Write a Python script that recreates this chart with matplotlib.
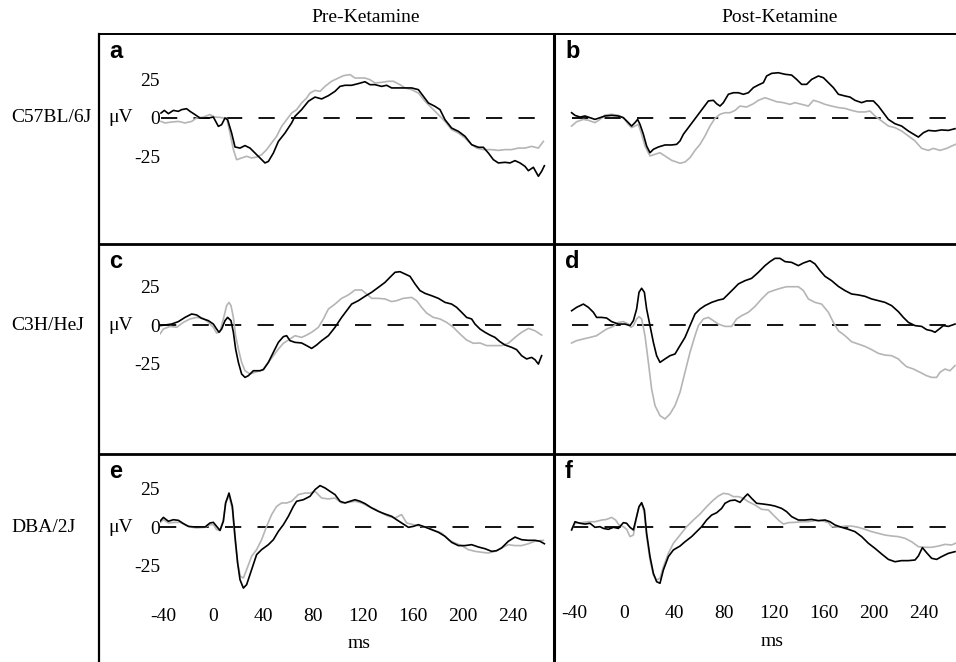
import matplotlib
matplotlib.use("Agg")
import matplotlib.pyplot as plt
from matplotlib.lines import Line2D

# ---- data: evoked potentials (ms, uV), black = trace 1, gray = trace 2 ----
# a: C57BL/6J pre-ketamine
a_black_t = [-41.6, -38.9, -35.7, -31.7, -27.7, -25.1, -21.1, -18.4, -14.4, -10.4, -3.7, 0.3, 4.3, 6.9, 9.6,
             11.7, 14.9, 17.6, 21.6, 25.6, 29.6, 33.6, 37.6, 41.6, 44.3, 48.3, 52.3, 57.6, 62.9, 65.6, 70.9,
             76.3, 81.6, 86.9, 92.3, 97.6, 101.6, 105.6, 110.9, 116.3, 121.6, 125.6, 129.6, 134.9, 138.9,
             142.9, 148.3, 153.6, 158.9, 164.3, 168.3, 172.3, 177.6, 181.6, 185.6, 190.9, 196.3, 201.6,
             206.9, 212.3, 216.3, 220.3, 224.3, 228.3, 233.6, 237.6, 241.6, 245.6, 249.6, 252.3, 256.3,
             260.3, 262.9, 265.1]
a_black_v = [3.2, 4.9, 2.8, 4.9, 4.3, 5.4, 6.0, 4.3, 2.2, 0, 0, 0.6, -5.4, -4.3, 0,
             -1.1, -9.7, -18.7, -19.4, -17.8, -19.4, -22.6, -25.8, -29.0, -28.0, -22.6, -15.1, -9.7, -3.2, 1.1, 5.4,
             10.8, 13.5, 12.3, 14.4, 17.2, 20.4, 21.1, 21.1, 22.2, 23.4, 21.5, 21.5, 20.4, 21.1,
             19.4, 19.4, 19.4, 19.4, 18.3, 14.0, 9.7, 7.5, 5.4, -1.1, -6.5, -8.6, -11.8,
             -17.2, -18.9, -18.9, -22.6, -26.9, -29.0, -28.6, -29.0, -27.5, -29.0, -31.2, -34.0, -31.8,
             -37.6, -34.4, -30.8]
a_gray_t = [-41.6, -38.4, -33.1, -27.7, -22.4, -17.1, -13.1, -7.7, -2.4, 1.6, 5.6, 8.3, 10.9, 13.6, 16.3,
            18.9, 22.9, 26.9, 30.9, 34.9, 38.9, 42.9, 46.9, 50.9, 54.9, 58.9, 62.9, 66.9, 70.9, 74.9, 77.6,
            81.6, 85.6, 89.6, 94.9, 100.3, 104.3, 109.6, 113.6, 117.6, 121.6, 125.6, 129.6, 134.9, 140.3,
            144.3, 149.6, 153.6, 158.9, 164.3, 169.6, 174.9, 180.3, 185.6, 190.9, 196.3, 201.6, 206.9,
            210.9, 216.3, 222.9, 228.3, 233.6, 238.9, 244.3, 249.6, 254.9, 260.3, 264.3]
a_gray_v = [-2.2, -3.2, -2.6, -2.2, -3.2, -2.2, 0, 0.6, 2.2, 0.6, 0.4, 0, 0, -9.7, -20.4,
            -26.9, -25.8, -24.7, -25.8, -25.2, -23.7, -20.4, -16.1, -11.8, -5.4, -1.1, 3.2, 5.4, 9.7, 12.9, 16.1,
            17.8, 17.2, 20.4, 23.7, 25.8, 27.3, 28.0, 25.8, 25.8, 25.8, 24.7, 22.6, 23.0, 23.7,
            23.7, 21.5, 19.4, 18.3, 16.1, 10.8, 6.5, 2.2, -2.2, -7.5, -9.7, -12.9, -17.2,
            -19.4, -20.4, -20.4, -20.9, -20.4, -20.4, -19.4, -19.4, -18.3, -19.4, -15.1]

# b: C57BL/6J post-ketamine
b_black_t = [-41.9, -39.2, -35.2, -31.2, -27.2, -23.2, -19.2, -15.2, -9.9, -4.5, -0.5, 3.5, 6.1, 8.8, 10.9,
             12.8, 15.5, 18.1, 20.8, 23.5, 27.5, 32.8, 38.1, 42.1, 44.8, 47.5, 51.5, 55.5, 59.5, 63.5, 67.5,
             71.5, 74.1, 76.8, 79.5, 83.5, 87.5, 91.5, 95.5, 99.5, 103.5, 107.5, 111.5, 114.1, 118.1, 123.5,
             128.8, 134.1, 138.1, 142.1, 146.1, 150.1, 155.5, 159.5, 163.5, 167.5, 171.5, 176.8, 180.8,
             184.8, 190.1, 194.1, 199.5, 203.5, 207.5, 211.5, 216.8, 222.1, 227.5, 232.8, 235.5, 239.5,
             243.5, 248.8, 254.1, 259.5, 264.8]
b_black_v = [3.4, 1.7, 0.6, 1.3, 0.2, -0.9, 0.2, 1.3, 1.7, 1.3, 0.2, -3.0, -5.2, -3.0, -0.9,
             -4.1, -10.5, -18.1, -22.4, -20.2, -18.7, -17.4, -17.4, -17.0, -14.8, -10.5, -6.2, -1.9, 2.4, 6.7, 11.0,
             11.4, 9.2, 7.7, 9.9, 15.3, 16.3, 16.3, 15.3, 16.3, 19.6, 21.3, 22.8, 27.1, 28.8, 29.2,
             28.2, 27.7, 24.9, 21.7, 21.7, 24.9, 27.1, 26.0, 22.8, 19.6, 15.3, 14.2, 13.5,
             11.4, 9.9, 11.0, 11.0, 7.7, 3.4, -0.9, -3.7, -5.2, -8.4, -11.0, -12.3, -9.5,
             -8.0, -8.4, -7.7, -8.0, -6.9]
b_gray_t = [-41.9, -37.9, -32.5, -28.5, -23.2, -19.2, -15.2, -9.9, -4.5, -0.5, 3.5, 6.1, 8.8, 11.5, 14.1,
            16.8, 20.8, 24.8, 28.8, 32.8, 38.1, 44.8, 48.8, 52.8, 56.8, 60.8, 64.8, 68.8, 72.8, 76.8, 80.8,
            84.8, 88.8, 92.8, 98.1, 103.5, 107.5, 112.8, 116.8, 122.1, 127.5, 132.8, 136.8, 142.1, 147.5,
            151.5, 155.5, 160.8, 166.1, 171.5, 176.8, 182.1, 187.5, 192.8, 196.8, 200.8, 206.1, 211.5,
            216.8, 222.1, 227.5, 232.8, 238.1, 243.5, 247.5, 252.8, 258.1, 262.1, 265.3]
b_gray_v = [-5.2, -2.4, -0.9, -1.5, -3.0, -0.9, 1.9, 2.4, 1.7, 0.2, -4.1, -6.2, -5.2, -4.1, -10.5,
            -18.1, -24.5, -23.4, -22.4, -24.5, -27.3, -29.2, -28.4, -25.6, -20.9, -17.0, -11.6, -5.2, -0.2, 2.4, 3.4,
            3.4, 4.9, 7.7, 7.1, 9.2, 11.4, 13.1, 12.0, 10.5, 9.9, 8.8, 9.9, 8.8, 7.7,
            11.4, 10.5, 8.8, 7.7, 6.7, 6.2, 4.9, 3.9, 3.9, 4.5, 1.3, -1.9, -5.2,
            -6.2, -8.4, -11.6, -14.8, -19.6, -20.9, -19.6, -20.9, -19.6, -18.1, -17.0]

# c: C3H/HeJ pre-ketamine
c_black_t = [-42.4, -38.4, -33.1, -27.7, -22.4, -17.1, -13.1, -9.1, -3.7, 0.3, 2.9, 4.8, 6.9, 9.6, 11.7,
             14.4, 16.3, 18.1, 20.3, 22.9, 25.6, 28.3, 32.3, 37.6, 40.3, 44.3, 48.3, 52.3, 56.3, 58.9, 61.6,
             65.6, 70.9, 74.9, 78.9, 82.9, 86.9, 92.3, 97.6, 102.9, 106.9, 110.9, 116.3, 121.6, 126.9, 132.3,
             137.6, 141.6, 145.6, 149.6, 153.6, 157.6, 161.6, 165.6, 169.6, 174.9, 180.3, 185.6, 190.9,
             194.9, 198.9, 202.9, 206.9, 209.6, 213.6, 217.6, 221.6, 225.6, 229.6, 233.6, 238.9, 242.9,
             246.9, 250.9, 254.9, 257.6, 260.3, 262.9]
c_black_v = [-0.4, 0, 0.6, 2.2, 4.9, 7.1, 6.5, 4.3, 2.8, 0.6, -2.6, -4.7, -2.6, 2.8, 4.9,
             2.8, -4.7, -15.5, -24.1, -31.6, -33.8, -32.7, -29.5, -29.5, -28.8, -24.1, -17.6, -11.2, -7.5, -6.9, -10.1,
             -11.2, -11.6, -13.3, -15.1, -12.9, -10.1, -6.9, -1.5, 4.9, 9.2, 13.5, 15.7, 18.5, 21.1, 24.3,
             27.5, 30.8, 34.0, 34.4, 32.9, 31.4, 26.5, 22.2, 20.4, 18.9, 17.2, 14.6, 13.5,
             11.4, 8.2, 4.9, 3.9, 0.6, -2.6, -4.7, -6.5, -8.0, -10.8, -12.9, -14.4, -15.9,
             -19.8, -21.9, -20.9, -22.4, -25.2, -19.8]
c_gray_t = [-42.4, -39.7, -34.4, -29.1, -23.7, -18.4, -13.1, -7.7, -3.7, 0.3, 2.9, 5.6, 8.3, 10.9, 12.8,
            14.4, 16.3, 18.1, 20.3, 22.9, 25.6, 29.6, 33.6, 37.6, 40.3, 44.3, 48.3, 52.3, 56.3, 61.6, 65.6,
            70.9, 74.9, 78.9, 84.3, 88.3, 92.3, 97.6, 102.9, 108.3, 113.6, 118.9, 122.9, 126.9, 132.3,
            137.6, 142.9, 146.9, 152.3, 158.9, 162.9, 166.9, 170.9, 176.3, 181.6, 186.9, 192.3, 197.6,
            202.9, 208.3, 213.6, 218.9, 224.3, 230.9, 236.3, 241.6, 246.9, 252.3, 257.6, 262.9]
c_gray_v = [-5.8, -2.6, -0.9, -1.5, 1.7, 3.9, 4.9, 4.3, 1.7, -1.5, -5.2, -4.3, 3.9, 12.5, 14.6,
            12.5, 4.9, -6.9, -15.5, -24.1, -29.5, -31.6, -30.5, -29.5, -28.4, -24.1, -19.8, -15.5, -11.8, -9.0, -6.9,
            -8.0, -6.5, -4.7, -1.5, 3.9, 10.3, 13.5, 17.2, 19.4, 22.6, 22.6, 20.0, 17.2, 17.2,
            16.8, 15.1, 15.7, 17.2, 17.8, 15.7, 11.4, 7.7, 4.9, 3.9, 1.7, -1.5, -5.8,
            -9.7, -11.8, -11.6, -13.3, -13.3, -13.3, -11.8, -8.0, -4.7, -2.2, -3.7, -6.5]

# d: C3H/HeJ post-ketamine
d_black_t = [-41.9, -37.9, -32.5, -28.5, -24.5, -21.9, -17.9, -13.9, -9.9, -4.5, 0.8, 4.8, 7.5, 10.1, 12.0,
             14.1, 16.3, 18.1, 20.8, 23.5, 26.1, 28.8, 32.8, 36.8, 40.8, 44.8, 48.8, 52.8, 56.8, 60.8, 64.8,
             70.1, 75.5, 79.5, 83.5, 87.5, 91.5, 96.8, 102.1, 107.5, 112.8, 116.8, 120.8, 124.8, 128.8,
             134.1, 139.5, 143.5, 148.8, 152.8, 156.8, 160.8, 166.1, 171.5, 176.8, 182.1, 187.5, 192.8,
             198.1, 203.5, 208.8, 214.1, 219.5, 223.5, 227.5, 232.8, 238.1, 242.1, 246.1, 248.8, 252.8,
             255.5, 259.5, 264.8]
d_black_v = [9.2, 11.4, 13.5, 11.4, 8.2, 4.9, 4.9, 4.5, 2.2, 0.6, 0.6, -0.4, 2.8, 10.3, 21.1,
             23.7, 21.1, 10.3, -0.4, -11.2, -19.8, -24.1, -21.9, -19.8, -18.7, -13.3, -8.0, -0.4, 7.1, 10.3, 12.5,
             14.6, 16.1, 16.8, 20.0, 23.2, 26.5, 28.6, 30.1, 34.0, 38.3, 40.9, 43.0, 43.0, 40.9,
             40.4, 38.3, 40.0, 41.5, 39.4, 35.1, 31.4, 28.6, 24.9, 22.2, 20.0, 19.4, 18.5,
             16.8, 15.7, 14.6, 12.5, 8.6, 4.9, 1.7, -0.4, -0.9, -3.0, -3.7, -4.7, -2.2,
             -0.4, -0.9, 0.6]
d_gray_t = [-41.9, -37.9, -32.5, -27.2, -21.9, -17.9, -13.9, -8.5, -4.5, -0.5, 3.5, 5.6, 7.5, 10.1, 12.0,
            14.1, 16.8, 19.5, 22.1, 24.8, 28.8, 32.8, 36.8, 40.8, 44.8, 48.8, 52.8, 56.8, 59.5, 63.5, 67.5,
            71.5, 75.5, 80.8, 86.1, 90.1, 94.1, 99.5, 104.8, 110.1, 115.5, 120.8, 126.1, 130.1, 134.1,
            139.5, 143.5, 147.5, 152.8, 158.1, 163.5, 167.5, 171.5, 176.8, 182.1, 187.5, 192.8, 198.1,
            203.5, 208.8, 214.1, 219.5, 222.1, 226.1, 231.5, 236.8, 242.1, 246.1, 250.1, 252.8, 256.8,
            260.8, 264.8]
d_gray_v = [-11.6, -10.1, -9.0, -8.0, -6.9, -4.7, -2.6, -0.9, 1.7, 2.2, 0.6, -1.5, -0.4, 3.9, 5.4,
            3.9, -6.9, -24.1, -41.3, -52.0, -58.5, -60.6, -57.4, -52.0, -43.4, -30.5, -17.6, -6.9, -0.4, 3.9, 4.9,
            2.8, 0.6, -0.9, -0.9, 3.9, 6.0, 8.2, 12.0, 16.8, 21.1, 22.6, 23.9, 24.7, 24.7,
            24.7, 22.2, 16.8, 14.6, 13.5, 8.2, 1.7, -3.7, -6.9, -10.8, -12.3, -13.8, -15.9,
            -18.3, -19.4, -19.8, -21.9, -24.1, -26.9, -28.4, -30.5, -32.7, -33.8, -33.8, -30.5, -28.4,
            -29.5, -26.2]

# e: DBA/2J pre-ketamine
e_black_t = [-42.4, -39.7, -35.7, -31.7, -27.7, -23.7, -19.7, -14.4, -6.4, -2.4, 0.3, 2.9, 5.6, 8.3, 10.1,
             12.8, 15.5, 17.6, 19.7, 21.6, 24.3, 26.9, 30.9, 34.9, 38.9, 44.3, 48.3, 52.3, 56.3, 60.3, 64.3,
             66.9, 72.3, 77.6, 81.6, 85.6, 89.6, 93.6, 97.6, 101.6, 105.6, 109.6, 113.6, 117.6, 121.6,
             126.9, 132.3, 137.6, 142.9, 146.9, 150.9, 156.3, 160.3, 164.3, 169.6, 174.9, 180.3, 185.6,
             190.9, 196.3, 201.6, 206.9, 212.3, 217.6, 222.9, 226.9, 230.9, 236.3, 241.6, 246.9, 252.3,
             257.6, 261.6, 265.1]
e_black_v = [3.7, 6.2, 3.7, 4.7, 4.3, 2.2, 0.4, 0, 0, 2.6, 3.0, 0.4, -2.2, 3.7, 15.5,
             21.9, 13.3, -6.0, -23.2, -34.0, -39.4, -37.2, -27.5, -17.8, -14.6, -11.4, -8.2, -2.8, 1.5, 6.9, 13.3,
             16.6, 17.6, 19.8, 24.1, 26.7, 25.2, 23.0, 20.9, 16.6, 15.5, 16.6, 17.6, 16.6, 15.1,
             12.3, 10.1, 8.4, 6.9, 4.7, 2.6, -0.2, 0.4, 1.5, 0, -1.7, -3.4, -6.0,
             -9.9, -12.0, -12.0, -11.4, -12.9, -14.0, -15.7, -15.3, -13.5, -9.2, -6.5, -8.2, -8.6,
             -8.6, -9.2, -10.8]
e_gray_t = [-42.4, -39.7, -35.7, -30.4, -26.4, -22.4, -18.4, -13.1, -6.4, -2.4, 0.3, 2.9, 5.6, 8.3, 10.1,
            12.8, 15.5, 17.6, 19.7, 21.9, 24.3, 26.9, 30.9, 34.9, 38.9, 42.9, 46.9, 50.9, 54.9, 58.9, 62.9,
            68.3, 73.6, 77.6, 81.6, 86.9, 92.3, 97.6, 102.9, 108.3, 113.6, 118.9, 124.3, 129.6, 134.9,
            140.3, 145.6, 150.9, 154.9, 160.3, 166.9, 172.3, 177.6, 182.9, 188.3, 193.6, 198.9, 204.3,
            209.6, 214.9, 220.3, 225.6, 230.9, 236.3, 241.6, 246.9, 252.3, 257.6, 264.3]
e_gray_v = [3.0, 4.7, 2.6, 3.0, 3.0, 1.5, 0, -0.6, -0.2, 1.5, 1.5, -1.7, -2.2, 4.7, 15.5,
            20.2, 11.2, -8.2, -23.2, -31.8, -32.9, -27.5, -18.9, -14.6, -8.2, 0.4, 8.0, 13.3, 15.5, 15.5, 16.6,
            20.9, 21.9, 21.9, 23.0, 18.7, 18.1, 18.7, 15.5, 15.9, 16.6, 15.5, 13.3, 11.6, 9.0,
            6.9, 5.8, 8.0, 2.6, 1.5, 0.4, -0.6, -2.4, -3.9, -8.2, -10.3, -12.0, -14.6,
            -15.7, -16.3, -16.8, -15.7, -13.5, -11.4, -12.0, -12.0, -10.8, -9.2, -8.6]

# f: DBA/2J post-ketamine
f_black_t = [-41.9, -39.2, -35.2, -31.2, -27.2, -23.2, -19.2, -16.5, -12.5, -8.5, -4.5, -0.5, 2.1, 4.8, 7.5,
             10.1, 12.0, 14.1, 16.3, 18.1, 20.8, 23.5, 26.1, 28.8, 31.5, 35.5, 39.5, 44.8, 48.8, 54.1, 58.1,
             62.1, 66.1, 70.1, 74.1, 78.1, 80.8, 84.8, 88.8, 92.8, 96.8, 98.9, 102.1, 106.1, 111.5, 116.8,
             120.8, 126.1, 130.1, 134.1, 139.5, 144.8, 150.1, 155.5, 160.8, 164.8, 168.8, 174.1, 179.5,
             184.8, 190.1, 195.5, 200.8, 206.1, 211.5, 216.8, 222.1, 227.5, 232.8, 235.5, 238.7, 242.1,
             246.1, 250.1, 254.1, 259.5, 264.8]
f_black_v = [-1.9, 3.4, 2.4, 1.9, 2.4, -0.2, 0.2, -0.9, -1.5, -0.2, -0.9, 2.8, 2.4, -0.2, -1.9,
             6.7, 13.1, 15.7, 11.0, -4.1, -19.1, -29.9, -35.3, -36.3, -27.7, -19.1, -14.8, -12.3, -9.5, -6.2, -3.0,
             0.2, 4.5, 7.7, 9.2, 12.0, 15.3, 17.0, 17.4, 15.9, 19.6, 21.3, 18.5, 15.3, 14.8, 14.2,
             13.5, 12.0, 9.9, 6.7, 4.5, 4.5, 4.9, 4.1, 4.5, 3.4, 1.3, -0.2, -1.5,
             -3.0, -6.2, -10.5, -13.8, -17.4, -20.9, -22.4, -21.7, -21.7, -21.3, -18.7, -13.3, -16.6,
             -20.2, -20.9, -19.1, -17.0, -15.9]
f_gray_t = [-41.9, -39.2, -33.9, -28.5, -23.2, -17.9, -13.9, -9.9, -6.7, -4.0, -0.5, 2.1, 4.8, 7.5, 10.1,
            12.0, 14.1, 16.3, 18.1, 20.8, 23.5, 26.1, 28.8, 31.5, 35.5, 39.5, 44.8, 50.1, 55.5, 60.8, 66.1,
            71.5, 75.5, 79.5, 83.5, 87.5, 91.5, 95.5, 99.5, 104.8, 110.1, 115.5, 119.5, 123.5, 127.5,
            131.5, 136.8, 142.1, 147.5, 152.8, 158.1, 163.5, 166.1, 171.5, 176.8, 182.1, 187.5, 192.8,
            198.1, 203.5, 208.8, 214.1, 219.5, 224.8, 230.1, 235.5, 240.8, 246.1, 251.5, 256.8, 262.1, 265.3]
f_gray_v = [-1.5, 2.4, 2.8, 3.4, 3.4, 4.5, 4.9, 6.2, 4.5, 1.3, 0.2, -1.5, -6.2, -5.2, 6.7,
            13.1, 15.3, 8.8, -6.2, -21.3, -31.0, -34.2, -33.1, -25.6, -17.0, -10.5, -5.2, 0.2, 4.5, 8.4, 13.1,
            17.4, 20.0, 21.7, 21.3, 19.6, 19.6, 18.5, 16.3, 14.2, 11.4, 11.0, 7.7, 4.5, 1.9,
            2.8, 3.0, 3.4, 3.4, 4.1, 4.1, 2.8, 0.2, -0.2, 0.6, 0.6, -0.2, -1.5,
            -3.0, -4.1, -5.2, -5.8, -6.2, -7.3, -9.5, -12.7, -13.1, -13.1, -12.3, -11.2, -11.6, -10.5]

strains = ["C57BL/6J", "C3H/HeJ", "DBA/2J"]
conditions = ["Pre-Ketamine", "Post-Ketamine"]
letters = ["a", "b", "c", "d", "e", "f"]
y_ticks = [-25, 0, 25]
y_tick_labels = ["-25", "0", "25"]
x_ticks = [-40, 0, 40, 80, 120, 160, 200, 240]
x_tick_labels = ["-40", "0", "40", "80", "120", "160", "200", "240"]

panels = [
    (a_black_t, a_black_v, a_gray_t, a_gray_v),
    (b_black_t, b_black_v, b_gray_t, b_gray_v),
    (c_black_t, c_black_v, c_gray_t, c_gray_v),
    (d_black_t, d_black_v, d_gray_t, d_gray_v),
    (e_black_t, e_black_v, e_gray_t, e_gray_v),
    (f_black_t, f_black_v, f_gray_t, f_gray_v),
]

# ---- layout (pixels of the 956x662 canvas) ----
W, H = 956, 662
LEFT, MID, RIGHT = 99, 554, 956
TOP = 34
row_top = [34, 244, 454]
row_bot = [244, 454, 662]
row_zero = [118, 325, 527]
col_x0 = [160, 554]
col_x1 = [554, 956]
col_t0 = [213, 624]      # pixel of t = 0 ms
PX_MS = 1.25
PX_UV = 1.55
GRAY = "#b5b5b5"

plt.rcParams["font.family"] = ["Liberation Serif", "DejaVu Serif"]
plt.rcParams["axes.unicode_minus"] = False


def fx(x):
    return x / W


def fy(y):
    return 1 - y / H


fig = plt.figure(figsize=(W / 100, H / 100), dpi=100)

for r in range(3):
    for c in range(2):
        bt, bv, gt, gv = panels[r * 2 + c]
        x0, x1 = col_x0[c], col_x1[c]
        y0, y1 = row_top[r], row_bot[r]
        ax = fig.add_axes([fx(x0), fy(y1), (x1 - x0) / W, (y1 - y0) / H])
        ax.patch.set_visible(False)
        for s in ax.spines.values():
            s.set_visible(False)
        ax.set_xlim((x0 - col_t0[c]) / PX_MS, (x1 - col_t0[c]) / PX_MS)
        ax.set_ylim(-(y1 - row_zero[r]) / PX_UV, (row_zero[r] - y0) / PX_UV)

        t_lo = min(bt[0], gt[0])
        t_hi = max(bt[-1], gt[-1])
        ax.plot([t_lo, t_hi], [0, 0], color="black", lw=1.3, dashes=(9, 9))
        ax.plot(gt, gv, color=GRAY, lw=1.2)
        ax.plot(bt, bv, color="black", lw=1.2)

        if c == 0:
            ax.set_yticks(y_ticks)
            ax.set_yticklabels(y_tick_labels)
            ax.tick_params(axis="y", length=0, pad=0, labelsize=14)
        else:
            ax.set_yticks([])
        if r == 2:
            ax.set_xticks(x_ticks)
            ax.set_xticklabels(x_tick_labels)
            ax.tick_params(axis="x", length=0, pad=-39 if c == 0 else -41, labelsize=14)
        else:
            ax.set_xticks([])

        # panel letter
        fig.text(fx(x0 - 52 + 1 if c == 0 else x0 + 11), fy(y0 + 24), letters[r * 2 + c],
                 family="Liberation Sans", weight="bold", fontsize=17, va="baseline")

# row labels and unit labels
for r, name in enumerate(strains):
    fig.text(fx(11), fy(row_zero[r]), name, fontsize=14, va="center", ha="left")
    fig.text(fx(108), fy(row_zero[r]), "\u03bcV", fontsize=14, va="center", ha="left")

# column titles
fig.text(fx(366), fy(17), conditions[0], fontsize=14, ha="center", va="center")
fig.text(fx(780), fy(17), conditions[1], fontsize=14, ha="center", va="center")

# x axis unit
fig.text(fx(359), fy(643), "ms", fontsize=14, ha="center", va="center")
fig.text(fx(772), fy(642), "ms", fontsize=14, ha="center", va="center")

# frame lines
frame = [
    ([LEFT, RIGHT], [TOP, TOP], 1.4),
    ([LEFT, LEFT], [TOP, H], 1.6),
    ([MID, MID], [TOP, H], 2.2),
    ([LEFT, RIGHT], [244, 244], 2.0),
    ([LEFT, RIGHT], [454, 454], 2.0),
]
for xs, ys, lw in frame:
    fig.add_artist(Line2D([fx(v) for v in xs], [fy(v) for v in ys],
                          transform=fig.transFigure, color="black", lw=lw))

fig.savefig("out.png", dpi=100)
